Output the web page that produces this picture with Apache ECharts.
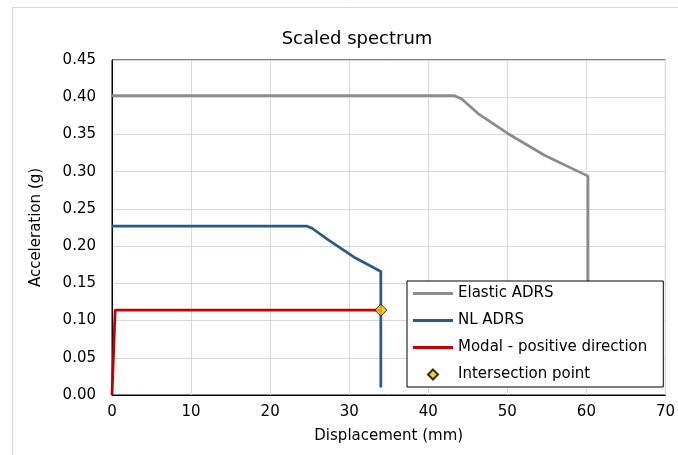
<!DOCTYPE html>
<html>
<head>
<meta charset="utf-8">
<title>Scaled spectrum</title>
<script src="https://cdn.jsdelivr.net/npm/echarts@6/dist/echarts.min.js"></script>
<style>
    html, body { margin: 0; padding: 0; background: #fff; }
    #chart { width: 678px; height: 455px; }
</style>
</head>
<body>
<div id="chart"></div>
<script>
// values (mm, g)
let elasticX = [0, 43.3, 44.2, 46.3, 50.1, 54.7, 60.2, 60.2];
let elasticY = [0.402, 0.402, 0.398, 0.378, 0.351, 0.322, 0.294, 0.02];
let nlX = [0, 24.6, 25.3, 27.4, 30.8, 34.0, 34.0];
let nlY = [0.227, 0.227, 0.224, 0.208, 0.184, 0.166, 0.010];
let modalX = [0, 0.4, 34.0];
let modalY = [0, 0.114, 0.114];
let pointX = [34.0];
let pointY = [0.114];
let xTicks = [0, 10, 20, 30, 40, 50, 60, 70];
let yTicks = [0, 0.05, 0.10, 0.15, 0.20, 0.25, 0.30, 0.35, 0.40, 0.45];

let font = 'DejaVu Sans';
// legend icons: plain line, small diamond
let lineIcon = 'path://M0 0H40V3H0Z';
let diamondIcon = 'path://M5 0L10 5L5 10L0 5Z';

function pairs(xs, ys) {
    let out = [];
    for (let i = 0; i < xs.length; i++) {
        out.push([xs[i], ys[i]]);
    }
    return out;
}

let chart = echarts.init(document.getElementById('chart'));
let option = {
    animation: false,
    backgroundColor: '#fff',
    textStyle: { fontFamily: font, color: '#000' },
    title: {
        text: 'Scaled spectrum',
        left: 352,
        top: 25,
        textAlign: 'center',
        textStyle: { fontFamily: font, fontSize: 18, fontWeight: 'normal', color: '#000' }
    },
    // outer chart frame
    graphic: [{
        type: 'rect',
        z: -10,
        shape: { x: 12.5, y: 7.5, width: 700, height: 500 },
        style: { fill: 'none', stroke: '#D9D9D9', lineWidth: 1 }
    }],
    grid: {
        left: 112,
        right: 10,
        top: 60,
        bottom: 60,
        show: true,
        borderColor: '#000',
        borderWidth: 1
    },
    legend: {
        orient: 'vertical',
        left: 407,
        top: 281,
        padding: [5, 16, 5, 6],
        itemWidth: 40,
        itemHeight: 10,
        itemGap: 12,
        backgroundColor: '#fff',
        borderColor: '#000',
        borderWidth: 1,
        borderRadius: 0,
        textStyle: { fontFamily: font, fontSize: 15, color: '#000' },
        data: [
            { name: 'Elastic ADRS', icon: lineIcon },
            { name: 'NL ADRS', icon: lineIcon },
            { name: 'Modal - positive direction', icon: lineIcon },
            { name: 'Intersection point', icon: diamondIcon }
        ]
    },
    xAxis: {
        type: 'value',
        min: xTicks[0],
        max: xTicks[xTicks.length - 1],
        interval: 10,
        name: 'Displacement (mm)',
        nameLocation: 'middle',
        nameGap: 34,
        nameTextStyle: { fontFamily: font, fontSize: 15, color: '#000' },
        axisLine: { show: true, onZero: false, lineStyle: { color: '#000', width: 1 } },
        axisTick: { show: false },
        axisLabel: { margin: 10, fontFamily: font, fontSize: 15, color: '#000' },
        splitLine: { show: true, lineStyle: { color: '#D9D9D9', width: 1 } }
    },
    yAxis: {
        type: 'value',
        min: yTicks[0],
        max: yTicks[yTicks.length - 1],
        interval: 0.05,
        name: 'Acceleration (g)',
        nameLocation: 'middle',
        nameGap: 68,
        nameTextStyle: { fontFamily: font, fontSize: 15, color: '#000' },
        axisLine: { show: true, lineStyle: { color: '#000', width: 1 } },
        axisTick: { show: false },
        axisLabel: {
            margin: 16,
            fontFamily: font,
            fontSize: 15,
            color: '#000',
            formatter: function (v) { return v.toFixed(2); }
        },
        splitLine: { show: true, lineStyle: { color: '#D9D9D9', width: 1 } }
    },
    series: [
        {
            name: 'Elastic ADRS',
            type: 'line',
            symbol: 'none',
            data: pairs(elasticX, elasticY),
            lineStyle: { color: '#8C8C8C', width: 2.75 },
            itemStyle: { color: '#8C8C8C' },
            z: 2
        },
        {
            name: 'NL ADRS',
            type: 'line',
            symbol: 'none',
            data: pairs(nlX, nlY),
            lineStyle: { color: '#2A5A87', width: 2.75 },
            itemStyle: { color: '#2A5A87' },
            z: 3
        },
        {
            name: 'Modal - positive direction',
            type: 'line',
            symbol: 'none',
            data: pairs(modalX, modalY),
            lineStyle: { color: '#C00000', width: 2.75 },
            itemStyle: { color: '#C00000' },
            z: 4
        },
        {
            name: 'Intersection point',
            type: 'scatter',
            symbol: 'diamond',
            symbolSize: 12,
            data: pairs(pointX, pointY),
            itemStyle: { color: '#FFC000', borderColor: '#000', borderWidth: 1 },
            z: 5
        }
    ]
};
chart.setOption(option);
</script>
</body>
</html>
